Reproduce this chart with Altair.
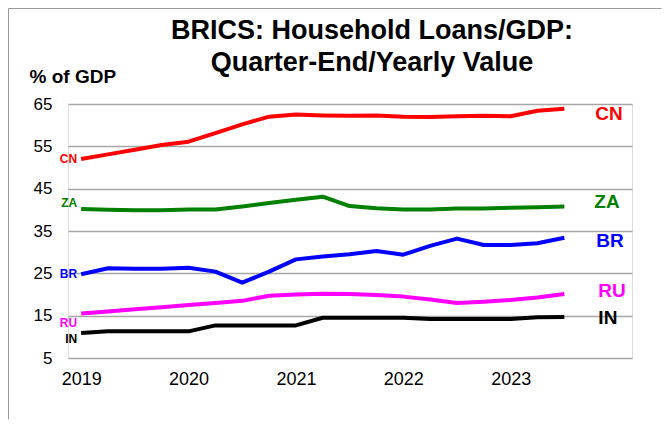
import altair as alt
import pandas as pd

quarters = ["2019Q1", "2019Q2", "2019Q3", "2019Q4", "2020Q1", "2020Q2", "2020Q3", "2020Q4",
            "2021Q1", "2021Q2", "2021Q3", "2021Q4", "2022Q1", "2022Q2", "2022Q3", "2022Q4",
            "2023Q1", "2023Q2", "2023Q3"]
year_labels = ["2019", "2020", "2021", "2022", "2023"]
y_ticks = [5, 15, 25, 35, 45, 55, 65]

series_names = ["CN", "ZA", "BR", "RU", "IN"]
series_colors = ["#ff0000", "#008000", "#0000ff", "#ff00ff", "#000000"]

cn = [52.0, 53.1, 54.2, 55.3, 56.1, 58.1, 60.2, 62.0, 62.5, 62.3, 62.2, 62.3, 62.0, 61.9, 62.1, 62.2, 62.1, 63.4, 63.9]
za = [40.2, 40.0, 39.9, 39.9, 40.1, 40.1, 40.8, 41.6, 42.4, 43.1, 40.9, 40.4, 40.1, 40.1, 40.3, 40.3, 40.5, 40.6, 40.8]
br = [24.8, 26.2, 26.1, 26.1, 26.3, 25.4, 22.8, 25.4, 28.3, 29.0, 29.5, 30.3, 29.4, 31.5, 33.2, 31.7, 31.7, 32.1, 33.4]
ru = [15.5, 16.0, 16.5, 17.0, 17.5, 18.0, 18.5, 19.7, 20.0, 20.2, 20.1, 19.9, 19.5, 18.8, 18.0, 18.3, 18.7, 19.3, 20.1]
in_ = [10.9, 11.3, 11.3, 11.3, 11.3, 12.7, 12.7, 12.7, 12.7, 14.5, 14.5, 14.5, 14.5, 14.2, 14.2, 14.2, 14.2, 14.6, 14.7]

values = {"CN": cn, "ZA": za, "BR": br, "RU": ru, "IN": in_}

rows = []
for s in series_names:
    for i, q in enumerate(quarters):
        rows.append({"series": s, "t": i, "quarter": q, "value": values[s][i]})
df = pd.DataFrame(rows)

FONT = "Liberation Sans"

x_scale = alt.Scale(domain=[-0.49, 20.52], nice=False, zero=False)
y_scale = alt.Scale(domain=[5, 65], nice=False, zero=False)
color_scale = alt.Scale(domain=series_names, range=series_colors)

label_expr = "[" + ",".join("'%s'" % y for y in year_labels) + "][datum.value / 4]"

x_enc = alt.X("t:Q", scale=x_scale,
              axis=alt.Axis(values=[0, 4, 8, 12, 16], labelExpr=label_expr, title=None,
                            grid=False, ticks=False, domain=False, labelFontSize=18,
                            labelPadding=12, labelColor="black", labelFont=FONT))
y_enc = alt.Y("value:Q", scale=y_scale,
              axis=alt.Axis(values=y_ticks, title="% of GDP", titleAngle=0, titleAlign="left",
                            titleBaseline="alphabetic", titleX=-39, titleY=-22,
                            titleFontSize=19, titleFontWeight="bold", titleColor="black",
                            titleFont=FONT, labelFontSize=17, labelPadding=16,
                            labelColor="black", labelFont=FONT, ticks=False, domain=False,
                            grid=True, gridColor="#a6a6a6", gridWidth=1.5))

lines = alt.Chart(df).mark_line(strokeWidth=4, strokeJoin="round").encode(
    x=x_enc, y=y_enc,
    color=alt.Color("series:N", scale=color_scale, legend=None),
    detail="series:N",
)

left_dy = {"CN": 0, "ZA": -5.5, "BR": 0, "RU": 9, "IN": 5.5}
right_dy = {"CN": 5.5, "ZA": -4.5, "BR": 3, "RU": -3, "IN": 1}
right_dx = {"CN": 31, "ZA": 30, "BR": 32, "RU": 34, "IN": 34}

layers = [lines]
for s, c in zip(series_names, series_colors):
    first = df[(df.series == s) & (df.t == 0)]
    last = df[(df.series == s) & (df.t == len(quarters) - 1)]
    layers.append(
        alt.Chart(first).mark_text(align="right", baseline="middle", dx=-4, dy=left_dy[s],
                                   fontSize=12, fontWeight="bold", color=c, font=FONT)
        .encode(x=alt.X("t:Q", scale=x_scale), y=alt.Y("value:Q", scale=y_scale), text="series:N")
    )
    layers.append(
        alt.Chart(last).mark_text(align="left", baseline="middle", dx=right_dx[s], dy=right_dy[s],
                                  fontSize=19, fontWeight="bold", color=c, font=FONT)
        .encode(x=alt.X("t:Q", scale=x_scale), y=alt.Y("value:Q", scale=y_scale), text="series:N")
    )

frame_df = pd.DataFrame({"k": [0]})
frame_left = alt.Chart(frame_df).mark_rule(color="#9a9a9a", strokeWidth=1).encode(
    x=alt.value(-59.5), y=alt.value(-95.5), y2=alt.value(315.5))
frame_top = alt.Chart(frame_df).mark_rule(color="#9a9a9a", strokeWidth=1).encode(
    x=alt.value(-59.5), x2=alt.value(593.5), y=alt.value(-95.5))
layers += [frame_left, frame_top]

chart = alt.layer(*layers).properties(
    width=564, height=254,
    title=alt.TitleParams(text=["BRICS: Household Loans/GDP:", "Quarter-End/Yearly Value"],
                          fontSize=27, fontWeight="bold", lineHeight=32, anchor="middle",
                          dx=22, offset=-69, color="black", font=FONT),
    autosize=alt.AutoSizeParams(type="none"),
    padding={"left": 60, "top": 96, "right": 30, "bottom": 62},
    background="white",
).configure_view(stroke=None).configure(font=FONT)

chart.save("out.html", embed_options={"renderer": "svg", "actions": False})
